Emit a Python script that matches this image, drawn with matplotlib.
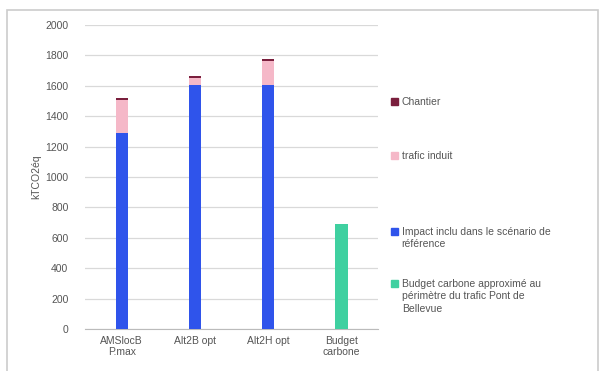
import numpy as np
import matplotlib.pyplot as plt
from matplotlib.patches import Rectangle

# -------------------------------------------
# Data (kTCO2éq)
# -------------------------------------------
categories = ["AMSlocB\nP.max", "Alt2B opt", "Alt2H opt", "Budget\ncarbone"]
impact_ref = [1290, 1605, 1605, 0]
trafic_induit = [215, 48, 158, 0]
chantier = [15, 14, 15, 0]
budget = [0, 0, 0, 690]

labels = ["Chantier", "trafic induit", "Impact inclu dans le scénario de\nréférence",
          "Budget carbone approximé au\npérimètre du trafic Pont de\nBellevue"]
colors = ["#7a1f3d", "#f5b8c8", "#2f54eb", "#3fd0a0"]

plt.rcParams['font.family'] = ['Liberation Sans', 'DejaVu Sans']

fig = plt.figure(figsize=(6.04, 3.71), dpi=100)
ax = fig.add_axes([0.141, 0.113, 0.485, 0.82])

x = np.arange(len(categories))
w = 0.17
impact_ref = np.array(impact_ref)
trafic_induit = np.array(trafic_induit)
chantier = np.array(chantier)

ax.bar(x, impact_ref, w, color=colors[2], zorder=3)
ax.bar(x, trafic_induit, w, bottom=impact_ref, color=colors[1], zorder=3)
ax.bar(x, chantier, w, bottom=impact_ref + trafic_induit, color=colors[0], zorder=3)
ax.bar(x, budget, w, color=colors[3], zorder=3)

ax.set_xlim(-0.5, 3.5)
ax.set_ylim(0, 2000)
ax.set_yticks(np.arange(0, 2001, 200))
ax.set_xticks(x)
ax.set_xticklabels(categories, fontsize=7.5, color="#555555", linespacing=1.1)
ax.tick_params(axis='y', labelsize=7.5, colors="#555555", length=0, pad=12)
ax.tick_params(axis='x', length=0, pad=5)
ax.grid(axis='y', color="#d9d9d9", linewidth=0.9, zorder=0)
for s in ["top", "right", "left"]:
    ax.spines[s].set_visible(False)
ax.spines["bottom"].set_color("#bbbbbb")
ax.set_ylabel("kTCO2éq", fontsize=7.5, color="#555555", labelpad=3)

# legend on the right, spaced out vertically (y = centre of the first text line)
leg_y = [0.728, 0.582, 0.377, 0.237]
for lab, col, yy in zip(labels, colors, leg_y):
    fig.patches.append(Rectangle((0.648, yy - 0.01), 0.011, 0.018, transform=fig.transFigure,
                                 color=col, figure=fig))
    fig.text(0.665, yy + 0.011, lab, fontsize=7.5, color="#555555", va="top",
             linespacing=1.3)

# outer frame
fig.patches.append(Rectangle((0.012, -0.01), 0.978, 0.983, transform=fig.transFigure,
                             fill=False, edgecolor="#cccccc", linewidth=1.2, figure=fig))

fig.savefig("out.png", dpi=100)
